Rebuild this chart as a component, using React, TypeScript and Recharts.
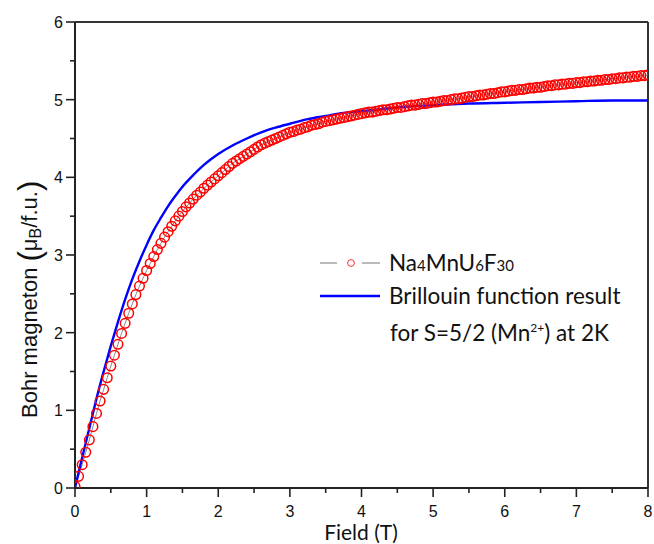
import React from 'react';
import { LineChart, Line, XAxis, YAxis, ReferenceLine, Legend } from 'recharts';

// Measured magnetisation of Na4MnU6F30 at 2 K (field in T, moment in µB per f.u.)
const fieldNa = [
  0, 0.05, 0.1, 0.15, 0.2, 0.25, 0.3, 0.35, 0.4, 0.45,
  0.5, 0.55, 0.6, 0.65, 0.7, 0.75, 0.8, 0.85, 0.9, 0.95,
  1.0, 1.05, 1.1, 1.15, 1.2, 1.25, 1.3, 1.35, 1.4, 1.45,
  1.5, 1.55, 1.6, 1.65, 1.7, 1.75, 1.8, 1.85, 1.9, 1.95,
  2.0, 2.05, 2.1, 2.15, 2.2, 2.25, 2.3, 2.35, 2.4, 2.45,
  2.5, 2.55, 2.6, 2.65, 2.7, 2.75, 2.8, 2.85, 2.9, 2.95,
  3.0, 3.05, 3.1, 3.15, 3.2, 3.25, 3.3, 3.35, 3.4, 3.45,
  3.5, 3.55, 3.6, 3.65, 3.7, 3.75, 3.8, 3.85, 3.9, 3.95,
  4.0, 4.05, 4.1, 4.15, 4.2, 4.25, 4.3, 4.35, 4.4, 4.45,
  4.5, 4.55, 4.6, 4.65, 4.7, 4.75, 4.8, 4.85, 4.9, 4.95,
  5.0, 5.05, 5.1, 5.15, 5.2, 5.25, 5.3, 5.35, 5.4, 5.45,
  5.5, 5.55, 5.6, 5.65, 5.7, 5.75, 5.8, 5.85, 5.9, 5.95,
  6.0, 6.05, 6.1, 6.15, 6.2, 6.25, 6.3, 6.35, 6.4, 6.45,
  6.5, 6.55, 6.6, 6.65, 6.7, 6.75, 6.8, 6.85, 6.9, 6.95,
  7.0, 7.05, 7.1, 7.15, 7.2, 7.25, 7.3, 7.35, 7.4, 7.45,
  7.5, 7.55, 7.6, 7.65, 7.7, 7.75, 7.8, 7.85, 7.9, 7.95,
  8.0,
];
const momentNa = [
  0.02, 0.15, 0.30, 0.46, 0.62, 0.79, 0.96, 1.12, 1.27, 1.42,
  1.57, 1.71, 1.85, 1.99, 2.12, 2.25, 2.37, 2.49, 2.60, 2.70,
  2.80, 2.89, 2.98, 3.07, 3.15, 3.23, 3.30, 3.37, 3.44, 3.50,
  3.56, 3.62, 3.67, 3.72, 3.77, 3.81, 3.86, 3.90, 3.94, 3.98,
  4.02, 4.06, 4.10, 4.14, 4.18, 4.21, 4.24, 4.27, 4.30, 4.33,
  4.36, 4.39, 4.42, 4.44, 4.46, 4.48, 4.50, 4.52, 4.54, 4.56,
  4.58, 4.59, 4.61, 4.62, 4.64, 4.65, 4.67, 4.68, 4.69, 4.71,
  4.72, 4.73, 4.74, 4.75, 4.76, 4.77, 4.78, 4.79, 4.80, 4.81,
  4.82, 4.83, 4.84, 4.84, 4.85, 4.86, 4.87, 4.87, 4.88, 4.89,
  4.90, 4.90, 4.91, 4.92, 4.93, 4.93, 4.94, 4.95, 4.95, 4.96,
  4.97, 4.97, 4.98, 4.99, 4.99, 5.00, 5.01, 5.01, 5.02, 5.03,
  5.04, 5.04, 5.05, 5.06, 5.06, 5.07, 5.08, 5.08, 5.09, 5.10,
  5.10, 5.11, 5.12, 5.12, 5.13, 5.13, 5.14, 5.15, 5.15, 5.16,
  5.16, 5.17, 5.18, 5.18, 5.19, 5.19, 5.20, 5.20, 5.21, 5.21,
  5.22, 5.22, 5.23, 5.23, 5.24, 5.24, 5.25, 5.25, 5.26, 5.26,
  5.27, 5.27, 5.28, 5.28, 5.29, 5.29, 5.30, 5.30, 5.31, 5.31,
  5.32,
];

// Brillouin curve for S=5/2 (Mn2+) at 2 K
const fieldBrillouin = [
  0, 0.05, 0.1, 0.15, 0.2, 0.25, 0.3, 0.4, 0.5, 0.6, 0.7, 0.8, 0.9,
  1.0, 1.1, 1.2, 1.3, 1.4, 1.5, 1.6, 1.8, 2.0, 2.2, 2.4, 2.6, 2.8, 3.0,
  3.25, 3.5, 3.75, 4.0, 4.5, 5.0, 5.5, 6.0, 6.5, 7.0, 7.5, 8.0,
];
const momentBrillouin = [
  0, 0.20, 0.39, 0.58, 0.77, 0.96, 1.15, 1.50, 1.83, 2.14, 2.43, 2.69, 2.92,
  3.13, 3.32, 3.48, 3.63, 3.76, 3.88, 3.98, 4.16, 4.30, 4.41, 4.50, 4.58, 4.64, 4.69,
  4.75, 4.79, 4.83, 4.85, 4.90, 4.93, 4.95, 4.96, 4.97, 4.98, 4.99, 4.99,
];

const fieldTicks = [0, 0.5, 1, 1.5, 2, 2.5, 3, 3.5, 4, 4.5, 5, 5.5, 6, 6.5, 7, 7.5, 8];
const momentTicks = [0, 0.5, 1, 1.5, 2, 2.5, 3, 3.5, 4, 4.5, 5, 5.5, 6];

const naData = fieldNa.map((b, i) => ({ b, m: momentNa[i] }));
const brillouinData = fieldBrillouin.map((b, i) => ({ b, m: momentBrillouin[i] }));

const axisColor = '#222';
const tickFont = "'Liberation Sans', Arial, sans-serif";
const textFont = "Lato, 'Open Sans', sans-serif";

// integer ticks get a long mark and a label, half-steps only a short mark
const XTick = ({ x, y, payload }: any) => {
  const major = Number.isInteger(payload.value);
  return (
    <g>
      <line x1={x} y1={y} x2={x} y2={y + (major ? 9 : 5)} stroke={axisColor} strokeWidth={1.6} />
      {major && (
        <text x={x} y={y + 29} textAnchor="middle" fontFamily={tickFont} fontSize={16} fill="#111">
          {payload.value}
        </text>
      )}
    </g>
  );
};

const YTick = ({ x, y, payload }: any) => {
  const major = Number.isInteger(payload.value);
  return (
    <g>
      <line x1={x} y1={y} x2={x - (major ? 9 : 5)} y2={y} stroke={axisColor} strokeWidth={1.6} />
      {major && (
        <text x={x - 12} y={y + 6} textAnchor="end" fontFamily={tickFont} fontSize={16} fill="#111">
          {payload.value}
        </text>
      )}
    </g>
  );
};

const YTitle = () => (
  <text transform="translate(37,418) rotate(-90)" fontFamily={tickFont} fontSize={22} fill="#111">
    <tspan>Bohr magneton </tspan>
    <tspan fontSize={31} dy={3}>(</tspan>
    <tspan dy={-3}>μ</tspan>
    <tspan fontSize={16} dy={4}>B</tspan>
    <tspan dy={-4}>/f.u.</tspan>
    <tspan fontSize={31} dy={3}>)</tspan>
  </text>
);

const XTitle = () => (
  <text x={361} y={540} textAnchor="middle" fontFamily={textFont} fontSize={21} fill="#111">
    Field (T)
  </text>
);

const small = { fontSize: 15 };

const LegendBox = () => (
  <div style={{ fontFamily: textFont, fontSize: 22.5, color: '#111', textAlign: 'left' }}>
    <div style={{ display: 'flex', alignItems: 'center', height: 33 }}>
      <svg width={62} height={12} style={{ marginRight: 9 }}>
        <line x1={2} y1={6} x2={19} y2={6} stroke="#777" strokeWidth={1} />
        <circle cx={33} cy={6} r={3.4} stroke="#ff3030" strokeWidth={1} fill="none" />
        <line x1={44} y1={6} x2={62} y2={6} stroke="#777" strokeWidth={1} />
      </svg>
      <span>
        Na<span style={small}>4</span>MnU<span style={small}>6</span>F<span style={small}>30</span>
      </span>
    </div>
    <div style={{ display: 'flex', alignItems: 'center', height: 33 }}>
      <svg width={62} height={12} style={{ marginRight: 9 }}>
        <line x1={2} y1={6} x2={62} y2={6} stroke="#0000ff" strokeWidth={2.4} />
      </svg>
      <span>Brillouin function result</span>
    </div>
    <div style={{ height: 40, paddingLeft: 72, display: 'flex', alignItems: 'center' }}>
      <span>
        for S=5/2 (Mn<sup style={{ fontSize: 12, verticalAlign: 9 }}>2+</sup>) at 2K
      </span>
    </div>
  </div>
);

export default function App() {
  return (
    <div style={{ position: 'absolute', left: 0, top: 0, background: '#fff' }}>
      <LineChart width={654} height={544} margin={{ top: 22, right: 6, bottom: 26, left: 0 }}>
        <XAxis
          type="number"
          dataKey="b"
          domain={[0, 8]}
          ticks={fieldTicks}
          interval={0}
          height={30}
          tickSize={0}
          tickMargin={0}
          tickLine={false}
          tick={<XTick />}
          axisLine={{ stroke: axisColor, strokeWidth: 2 }}
          allowDataOverflow
          label={<XTitle />}
        />
        <YAxis
          type="number"
          dataKey="m"
          domain={[0, 6]}
          ticks={momentTicks}
          interval={0}
          width={75}
          tickSize={0}
          tickMargin={0}
          tickLine={false}
          tick={<YTick />}
          axisLine={{ stroke: axisColor, strokeWidth: 2 }}
          allowDataOverflow
          label={<YTitle />}
        />
        <ReferenceLine y={6} stroke="#333" strokeWidth={2} />
        <ReferenceLine x={8} stroke="#333" strokeWidth={2} />
        <Line
          data={naData}
          dataKey="m"
          name="Na4MnU6F30"
          stroke="#888"
          strokeWidth={1}
          dot={{ r: 4.8, stroke: '#ff0000', strokeWidth: 1.5, fill: 'none' }}
          activeDot={false}
          isAnimationActive={false}
        />
        <Line
          data={brillouinData}
          dataKey="m"
          type="monotone"
          name="Brillouin function result"
          stroke="#0000ff"
          strokeWidth={2.4}
          dot={false}
          activeDot={false}
          isAnimationActive={false}
        />
        <Legend
          layout="horizontal"
          align="center"
          verticalAlign="middle"
          wrapperStyle={{ left: 318, top: 246, width: 330 }}
          content={<LegendBox />}
        />
      </LineChart>
    </div>
  );
}
